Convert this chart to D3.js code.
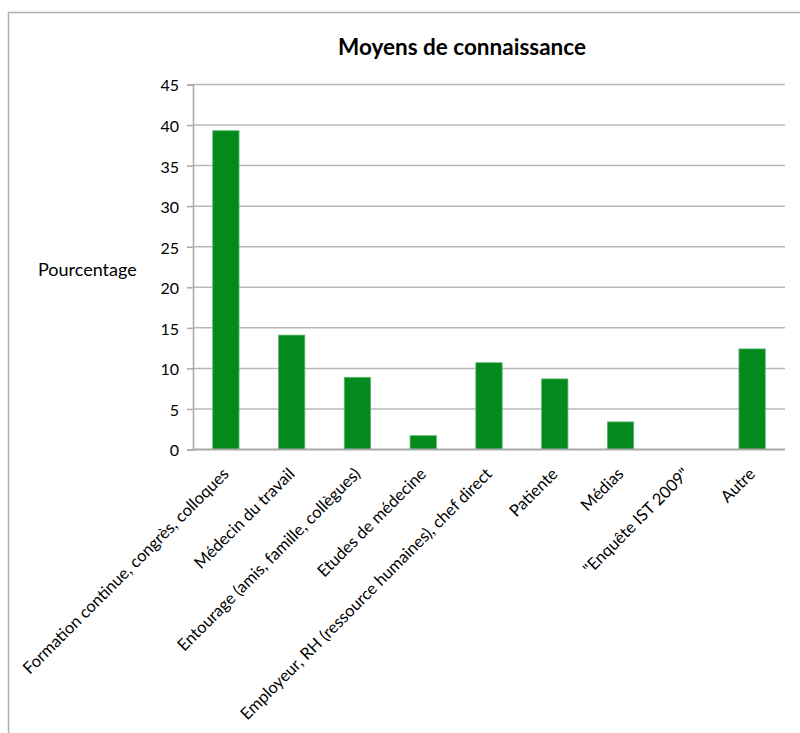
<!DOCTYPE html>
<html><head><meta charset="utf-8">
<script src="https://cdn.jsdelivr.net/npm/d3@7"></script>
<style>body{margin:0;background:#fff}svg{display:block}text{font-family:Lato,"Open Sans",sans-serif;fill:#000}</style>
</head><body>
<script>
const categories = ["Formation continue, congrès, colloques","Médecin du travail","Entourage (amis, famille, collègues)","Etudes de médecine","Employeur, RH (ressource humaines), chef direct","Patiente","Médias","\"Enquête IST 2009\"","Autre"];
const values = [39.3, 14.1, 8.9, 1.7, 10.7, 8.7, 3.4, 0, 12.4];
const yTicks = [0,5,10,15,20,25,30,35,40,45];
const title = "Moyens de connaissance";
const yTitle = "Pourcentage";

const W=800,H=733;
const svg=d3.select("body").append("svg").attr("width",W).attr("height",H);
svg.append("rect").attr("x",8.5).attr("y",12.5).attr("width",900).attr("height",900).attr("fill","#fff").attr("stroke","#b0b0b0").attr("stroke-width",1.5);

const x=d3.scaleBand().domain(categories).range([193,785]).paddingInner(0.6).paddingOuter(0.3);
const y=d3.scaleLinear().domain([0,45]).range([449.5,84.5]);

svg.append("g").selectAll("line").data(yTicks.filter(d=>d>0)).join("line")
 .attr("x1",193).attr("x2",785).attr("y1",d=>y(d)).attr("y2",d=>y(d)).attr("stroke","#b8b8b8").attr("stroke-width",1.5);

const ya=svg.append("g").attr("transform","translate(193,0)").call(d3.axisLeft(y).tickValues(yTicks).tickSize(6).tickPadding(8));
ya.select(".domain").attr("stroke","#a8a8a8").attr("stroke-width",1.5);
ya.selectAll(".tick line").attr("stroke","#a8a8a8").attr("stroke-width",1.5);
ya.selectAll(".tick text").attr("font-size",16).attr("font-family","Lato,sans-serif").attr("fill","#000").attr("dy","0.4em");

svg.append("g").selectAll("rect").data(values).join("rect")
 .attr("x",(d,i)=>x(categories[i])).attr("width",x.bandwidth())
 .attr("y",d=>y(d)).attr("height",d=>y(0)-y(d))
 .attr("fill","#048a1c").attr("stroke","#5cb86a").attr("stroke-width",0.8);

svg.append("line").attr("x1",193).attr("x2",785).attr("y1",y(0)).attr("y2",y(0)).attr("stroke","#a8a8a8").attr("stroke-width",2);

svg.append("g").selectAll("text").data(categories).join("text")
 .attr("transform",d=>`translate(${x(d)+x.bandwidth()/2+4},${475}) rotate(-45)`)
 .attr("text-anchor","end").attr("font-size",16.5).text(d=>d);

svg.append("text").attr("x",462).attr("y",55).attr("text-anchor","middle").attr("font-size",22.5).attr("font-weight","bold").text(title);
svg.append("text").attr("x",38).attr("y",276).attr("font-size",18).text(yTitle);
</script>
</body></html>
